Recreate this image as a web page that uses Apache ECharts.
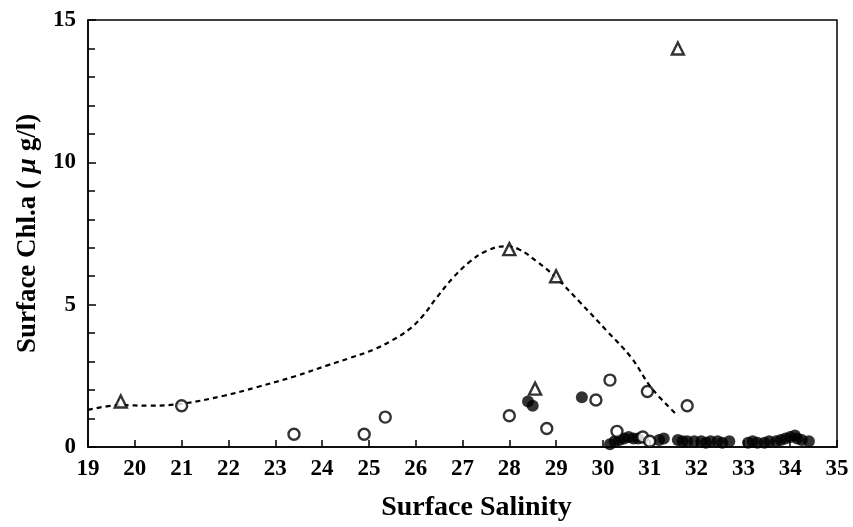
<!DOCTYPE html>
<html>
<head>
<meta charset="utf-8">
<script src="https://cdn.jsdelivr.net/npm/echarts@6/dist/echarts.min.js"></script>
<style>
  html, body { margin: 0; padding: 0; background: #fff; }
  #main { width: 853px; height: 527px; }
</style>
</head>
<body>
<div id="main"></div>
<script>
// triangles (open)
var triangles = [[19.7, 1.6], [28.55, 2.05], [28.0, 6.95], [29.0, 6.0], [31.6, 14.0]];

// open circles
var openCircles = [
  [21.0, 1.45], [23.4, 0.45], [24.9, 0.45], [25.35, 1.05], [28.0, 1.1],
  [28.8, 0.65], [29.85, 1.65], [30.15, 2.35], [30.95, 1.95], [31.8, 1.45],
  [30.3, 0.55], [30.85, 0.35], [31.0, 0.2]
];

// filled circles
var filledCircles = [
  [28.4, 1.6], [28.5, 1.45], [29.55, 1.75],
  [30.15, 0.1], [30.25, 0.2], [30.35, 0.25], [30.45, 0.3], [30.55, 0.35], [30.65, 0.3],
  [30.75, 0.3], [31.2, 0.25], [31.3, 0.3], [31.6, 0.25], [31.7, 0.2], [31.8, 0.2],
  [31.95, 0.2], [32.1, 0.2], [32.2, 0.15], [32.3, 0.2], [32.45, 0.2], [32.55, 0.15],
  [32.7, 0.2], [33.1, 0.15], [33.2, 0.2], [33.3, 0.15], [33.45, 0.15], [33.55, 0.2],
  [33.7, 0.2], [33.8, 0.25], [33.9, 0.3], [34.0, 0.35], [34.1, 0.4], [34.15, 0.3],
  [34.25, 0.25], [34.4, 0.2]
];

// dashed envelope curve
var curve = [
  [19.0, 1.3], [19.7, 1.47], [20.3, 1.45], [21.0, 1.52], [21.9, 1.8],
  [22.6, 2.1], [23.45, 2.5], [24.1, 2.86], [24.6, 3.13], [25.1, 3.42],
  [25.5, 3.75], [25.85, 4.12], [26.15, 4.6], [26.45, 5.25], [26.8, 5.95],
  [27.15, 6.5], [27.5, 6.88], [27.9, 7.05], [28.2, 6.95], [28.6, 6.5],
  [29.0, 5.95], [29.5, 5.1], [30.1, 4.05], [30.6, 3.15], [31.05, 2.05],
  [31.6, 1.1]
];

var font = '"Liberation Serif", "DejaVu Serif", serif';

var chart = echarts.init(document.getElementById('main'));
var option = {
  backgroundColor: '#fff',
  animation: false,
  grid: {
    left: 88, right: 16, top: 20, bottom: 78,
    show: true, borderColor: '#000', borderWidth: 1.5
  },
  xAxis: {
    type: 'value', min: 19, max: 35, interval: 1,
    name: 'Surface Salinity', nameLocation: 'middle', nameGap: 47,
    nameTextStyle: { fontFamily: font, fontWeight: 'bold', fontSize: 28, color: '#000', padding: [0, 0, 0, 28] },
    axisLine: { lineStyle: { color: '#000', width: 1.5 } },
    axisTick: { inside: true, length: 7, lineStyle: { color: '#000', width: 1.5 } },
    axisLabel: { fontFamily: font, fontWeight: 'bold', fontSize: 23, color: '#000', margin: 11 },
    splitLine: { show: false }
  },
  yAxis: {
    type: 'value', min: 0, max: 15, interval: 5,
    name: '{a|Surface Chl.a ( }{b|μ}{a| g/l)}', nameLocation: 'middle', nameGap: 46, nameRotate: 90,
    nameTextStyle: {
      rich: {
        a: { fontFamily: font, fontWeight: 'bold', fontSize: 27, color: '#000' },
        b: { fontFamily: font, fontWeight: 'bold', fontStyle: 'italic', fontSize: 27, color: '#000' }
      }
    },
    axisLine: { lineStyle: { color: '#000', width: 1.5 } },
    axisTick: { inside: true, length: 8, lineStyle: { color: '#000', width: 1.5 } },
    minorTick: { show: true, splitNumber: 5, length: 7, lineStyle: { color: '#000', width: 1.5 } },
    axisLabel: { fontFamily: font, fontWeight: 'bold', fontSize: 23, color: '#000', margin: 12 },
    splitLine: { show: false }
  },
  series: [
    {
      type: 'line', data: curve, smooth: 0.4, symbol: 'none',
      lineStyle: { color: '#000', width: 2.2, type: [5, 4] }, z: 1
    },
    {
      type: 'scatter', data: filledCircles, symbol: 'circle', symbolSize: 12,
      itemStyle: { color: '#000' }, z: 2
    },
    {
      type: 'scatter', data: openCircles, symbol: 'circle', symbolSize: 11,
      itemStyle: { color: '#fff', borderColor: '#000', borderWidth: 2.4 }, z: 3
    },
    {
      type: 'scatter', data: triangles, symbol: 'triangle', symbolSize: [12, 12],
      itemStyle: { color: '#fff', borderColor: '#000', borderWidth: 2.4 }, z: 3
    }
  ]
};
chart.setOption(option);
</script>
</body>
</html>
